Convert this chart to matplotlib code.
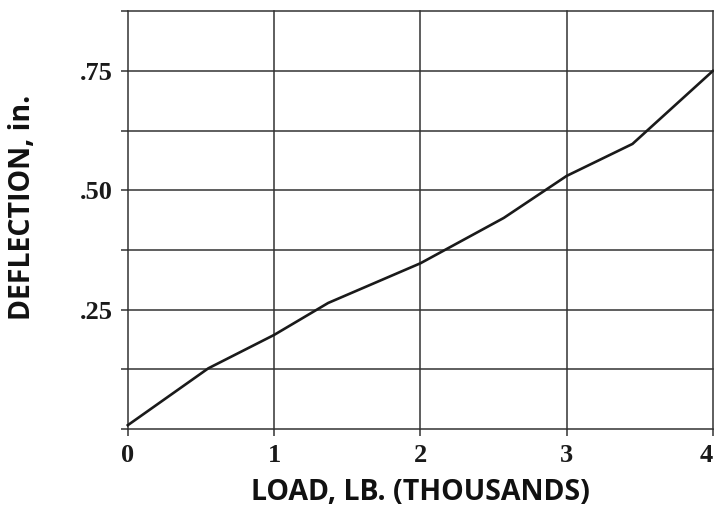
import matplotlib
matplotlib.use("Agg")
import matplotlib.pyplot as plt
import numpy as np

load = [0.0, 0.55, 1.0, 1.37, 2.0, 2.57, 3.0, 3.45, 4.0]
deflection = [0.008, 0.127, 0.197, 0.264, 0.347, 0.442, 0.53, 0.597, 0.75]

x_ticks = [0, 1, 2, 3, 4]
x_labels = ["0", "1", "2", "3", "4"]
y_major = [0.25, 0.50, 0.75]
y_labels = [".25", ".50", ".75"]
y_grid = [0.0, 0.125, 0.25, 0.375, 0.5, 0.625, 0.75, 0.875]

fig = plt.figure(figsize=(7.14, 5.08), dpi=100)
ax = fig.add_axes([0.179, 0.1555, 0.8195, 0.8225])

ax.plot(load, deflection, color="#1a1a1a", lw=1.9, solid_joinstyle="miter", zorder=3, clip_on=False)

ax.set_xlim(0, 4)
ax.set_ylim(0, 0.875)

for s in ax.spines.values():
    s.set_visible(False)

gc = "#333333"
ax.set_xticks(x_ticks)
ax.set_xticklabels(x_labels)
ax.set_yticks(y_grid)
ax.set_yticklabels(["" if v not in y_major else y_labels[y_major.index(v)] for v in y_grid])

for v in y_grid:
    ax.axhline(v, color=gc, lw=1.1, zorder=1, clip_on=False)
for v in x_ticks:
    ax.axvline(v, color=gc, lw=1.1, zorder=1, clip_on=False)

ax.tick_params(axis="both", direction="out", length=5, width=1.1, color=gc, pad=6)
for lab in ax.get_xticklabels() + ax.get_yticklabels():
    lab.set_fontfamily("Liberation Serif")
    lab.set_fontweight("bold")
    lab.set_fontsize(19)
    lab.set_color("#1a1a1a")
ax.get_xticklabels()[-1].set_horizontalalignment("right")

ax.set_xlabel("LOAD, LB. (THOUSANDS)", fontfamily="Open Sans", fontweight="bold", fontsize=20.5, color="#111111", labelpad=8)
ax.set_ylabel("DEFLECTION, in.", fontfamily="Open Sans", fontweight="bold", fontsize=20.5, color="#111111")
ax.yaxis.set_label_coords(-0.155, 0.53)

fig.savefig("out.png", dpi=100)
